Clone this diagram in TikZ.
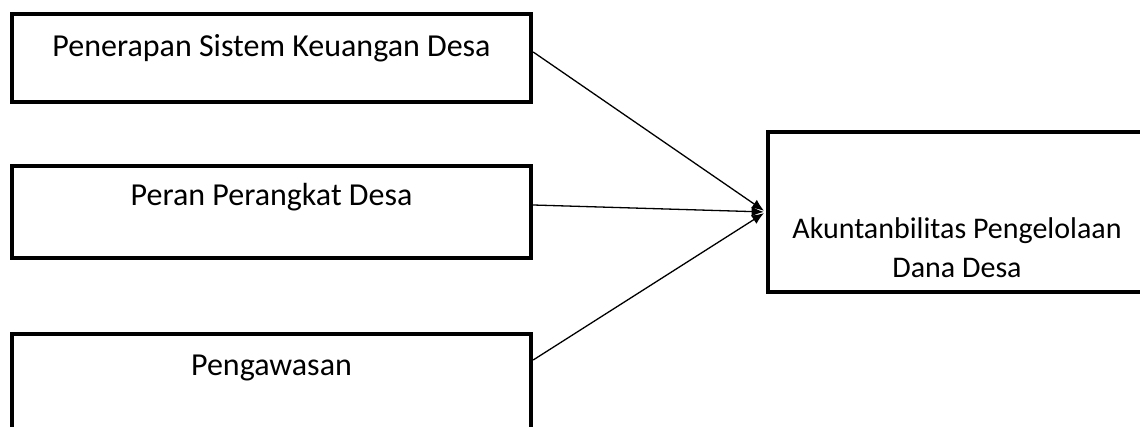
\documentclass[tikz,border=0pt]{standalone}
\usepackage{fontspec}
\setmainfont{Carlito}
\usetikzlibrary{arrows.meta}

\begin{document}
\begin{tikzpicture}[x=1pt,y=1pt,node distance=77pt]
        \tikzstyle{box}=[rectangle, draw, line width=2.2pt, inner sep=0pt, minimum width=259.5pt, font=\fontsize{16}{19.5}\selectfont]
        \tikzstyle{link}=[-{Latex[length=6pt,width=5pt]}, line width=0.65pt, shorten >=1.1pt]

        \useasboundingbox (0,0) rectangle (570,-213.5);

        \node[box, text height=21.5pt, text depth=22.5pt] (sistem) at (135.75,-29) {Penerapan Sistem Keuangan Desa};
        \node[box, below of=sistem, text height=20pt, text depth=26pt] (perangkat) {Peran Perangkat Desa};
        \node[box, below of=perangkat, node distance=87pt, text height=20.5pt, text depth=31.5pt] (pengawasan) {Pengawasan};
        \node[box, right of=perangkat, node distance=342.75pt, minimum width=189pt, align=center,
              font=\fontsize{15}{19.5}\selectfont, text height=73pt, text depth=7pt] (akuntabilitas)
              {Akuntanbilitas Pengelolaan\\Dana Desa};

        \draw[link] ([yshift=3pt]sistem.east) -- (akuntabilitas.west);
        \draw[link] ([yshift=3.5pt]perangkat.east) -- (akuntabilitas.west);
        \draw[link] ([yshift=13pt]pengawasan.east) -- (akuntabilitas.west);
    \end{tikzpicture}
\end{document}
